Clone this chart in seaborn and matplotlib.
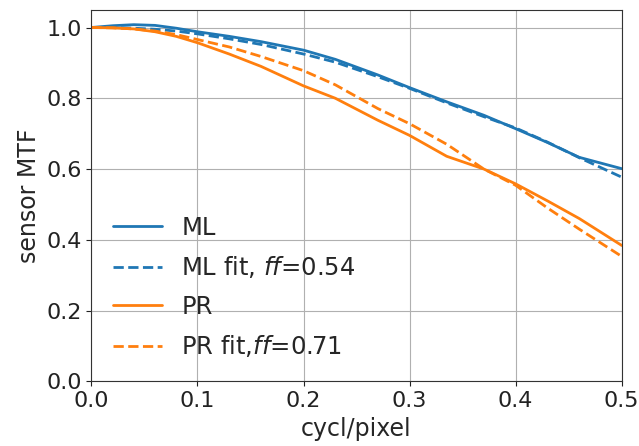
import matplotlib
matplotlib.use("Agg")
import matplotlib.pyplot as plt
import seaborn as sns
import numpy as np

x = [0.0, 0.02, 0.04, 0.06, 0.08, 0.1, 0.13, 0.16, 0.2, 0.23, 0.27, 0.3, 0.335, 0.37, 0.4, 0.43, 0.46, 0.5]
ml = [1.0, 1.005, 1.008, 1.006, 0.998, 0.988, 0.975, 0.96, 0.936, 0.91, 0.866, 0.830, 0.790, 0.752, 0.714, 0.675, 0.633, 0.601]
ml_fit = [1.0, 1.0, 0.998, 0.995, 0.99, 0.982, 0.968, 0.952, 0.925, 0.902, 0.861, 0.828, 0.787, 0.748, 0.716, 0.676, 0.632, 0.577]
pr = [1.0, 0.999, 0.996, 0.988, 0.975, 0.957, 0.925, 0.89, 0.835, 0.80, 0.738, 0.695, 0.636, 0.60, 0.558, 0.51, 0.46, 0.384]
pr_fit = [1.0, 0.999, 0.996, 0.99, 0.98, 0.966, 0.945, 0.918, 0.878, 0.838, 0.771, 0.728, 0.67, 0.60, 0.554, 0.49, 0.43, 0.353]

labels = ["ML", "ML fit, $ff$=0.54", "PR", "PR fit,$ff$=0.71"]
series = [ml, ml_fit, pr, pr_fit]
colors = ["#1f77b4", "#1f77b4", "#ff7f0e", "#ff7f0e"]
styles = ["-", "--", "-", "--"]

sns.set_style("ticks")
plt.rcParams["font.family"] = ["DejaVu Sans"]

fig, ax = plt.subplots(figsize=(6.39, 4.46), dpi=100)
for y, lab, c, ls in zip(series, labels, colors, styles):
    sns.lineplot(x=x, y=y, ax=ax, color=c, linestyle=ls, linewidth=2, label=lab)

ax.set_xlim(0, 0.5)
ax.set_ylim(0, 1.05)
ax.set_xticks([0.0, 0.1, 0.2, 0.3, 0.4, 0.5])
ax.set_yticks([0.0, 0.2, 0.4, 0.6, 0.8, 1.0])
ax.grid(True, color="#b0b0b0", linewidth=0.8)
ax.tick_params(labelsize=16, colors="#222222")
ax.set_xlabel("cycl/pixel", fontsize=17)
ax.set_ylabel("sensor MTF", fontsize=17)
for s in ax.spines.values():
    s.set_color("#333333")
ax.legend(loc="lower left", frameon=False, fontsize=17.5, labelspacing=0.6,
          bbox_to_anchor=(0.0, 0.0))
fig.subplots_adjust(left=0.143, right=0.973, top=0.978, bottom=0.145)
fig.savefig("out.png", dpi=100)
